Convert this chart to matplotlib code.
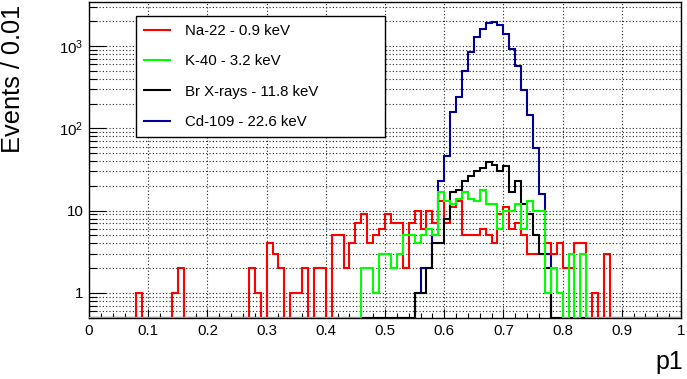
import numpy as np
import matplotlib
matplotlib.use("Agg")
import matplotlib.pyplot as plt
from matplotlib.lines import Line2D
from matplotlib.ticker import MultipleLocator, LogLocator, NullFormatter

plt.rcParams['font.family'] = ['Liberation Sans', 'DejaVu Sans']

# p1 binning, 0.01 wide bins from 0 to 1
bin_edges = np.linspace(0.0, 1.0, 101)

# counts per bin, one row = 0.1 in p1
na22 = [
    0, 0, 0, 0, 0, 0, 0, 0, 1, 0,
    0, 0, 0, 0, 1, 2, 0, 0, 0, 0,
    0, 0, 0, 0, 0, 0, 0, 2, 1, 0,
    4, 3, 2, 0, 1, 1, 2, 0, 2, 2,
    0, 5, 5, 2, 4, 7, 9, 4, 5, 6,
    9, 7, 7, 2, 7, 10, 6, 10, 7, 13,
    7, 11, 13, 5, 5, 5, 6, 5, 4, 9,
    11, 6, 7, 5, 3, 3, 3, 4, 3, 4,
    2, 2, 4, 4, 0, 1, 0, 3, 0, 0,
    0, 0, 0, 0, 0, 0, 0, 0, 0, 0,
]
k40 = [
    0, 0, 0, 0, 0, 0, 0, 0, 0, 0,
    0, 0, 0, 0, 0, 0, 0, 0, 0, 0,
    0, 0, 0, 0, 0, 0, 0, 0, 0, 0,
    0, 0, 0, 0, 0, 0, 0, 0, 0, 0,
    0, 0, 0, 0, 0, 0, 2, 2, 1, 3,
    3, 2, 3, 5, 5, 4, 5, 6, 5, 17,
    13, 12, 14, 17, 14, 13, 18, 12, 12, 6,
    10, 10, 12, 6, 13, 10, 10, 1, 2, 1,
    0, 3, 0, 3, 0, 0, 0, 0, 0, 0,
    0, 0, 0, 0, 0, 0, 0, 0, 0, 0,
]
br_xrays = [
    0, 0, 0, 0, 0, 0, 0, 0, 0, 0,
    0, 0, 0, 0, 0, 0, 0, 0, 0, 0,
    0, 0, 0, 0, 0, 0, 0, 0, 0, 0,
    0, 0, 0, 0, 0, 0, 0, 0, 0, 0,
    0, 0, 0, 0, 0, 0, 0, 0, 0, 0,
    0, 0, 0, 0, 0, 1, 1, 2, 4, 4,
    8, 17, 18, 23, 26, 30, 33, 39, 36, 30,
    35, 17, 23, 12, 9, 5, 3, 2, 0, 0,
    0, 0, 0, 0, 0, 0, 0, 0, 0, 0,
    0, 0, 0, 0, 0, 0, 0, 0, 0, 0,
]
cd109 = [
    0, 0, 0, 0, 0, 0, 0, 0, 0, 0,
    0, 0, 0, 0, 0, 0, 0, 0, 0, 0,
    0, 0, 0, 0, 0, 0, 0, 0, 0, 0,
    0, 0, 0, 0, 0, 0, 0, 0, 0, 0,
    0, 0, 0, 0, 0, 0, 0, 0, 0, 0,
    0, 0, 0, 0, 0, 1, 2, 2, 5, 23,
    46, 158, 240, 500, 840, 1276, 1590, 1900, 1945, 1800,
    1410, 920, 575, 292, 144, 57, 16, 3, 0, 0,
    0, 0, 0, 0, 0, 0, 0, 0, 0, 0,
    0, 0, 0, 0, 0, 0, 0, 0, 0, 0,
]

labels = ["Na-22 - 0.9 keV", "K-40 - 3.2 keV", "Br X-rays - 11.8 keV", "Cd-109 - 22.6 keV"]
colors = ["#ff0000", "#00ff00", "#000000", "#000099"]

ymin, ymax = 0.497, 3420

fig = plt.figure(figsize=(6.87, 3.79), dpi=100)
ax = fig.add_axes([89 / 687, 61 / 379, 592 / 687, 316 / 379])

# draw order: Cd, Na, Br, K (K ends up on top, like the root canvas)
series = [na22, k40, br_xrays, cd109]
for idx in [3, 0, 2, 1]:
    vals = np.clip(np.array(series[idx], dtype=float), ymin, None)  # empty bins sit on the frame
    ax.stairs(vals, bin_edges, baseline=None, color=colors[idx], lw=1.5, zorder=3)

ax.set_yscale('log')
ax.set_xlim(0, 1)
ax.set_ylim(ymin, ymax)

ax.set_xticks(np.arange(0, 1.01, 0.1))
ax.set_xticklabels(['0', '0.1', '0.2', '0.3', '0.4', '0.5', '0.6', '0.7', '0.8', '0.9', '1'])
ax.xaxis.set_minor_locator(MultipleLocator(0.02))
ax.set_yticks([1, 10, 100, 1000])
ax.set_yticklabels(['1', '10', r'$\mathregular{10^{2}}$', r'$\mathregular{10^{3}}$'])
ax.yaxis.set_minor_locator(LogLocator(base=10, subs=np.arange(2, 10) * 1.0, numticks=30))
ax.yaxis.set_minor_formatter(NullFormatter())

ax.tick_params(which='both', direction='in', top=False, right=False, labelsize=10.8, width=0.8)
ax.tick_params(axis='x', which='major', length=6.8, pad=4)
ax.tick_params(axis='x', which='minor', length=3.4)
ax.tick_params(axis='y', which='major', length=12.2, pad=4)
ax.tick_params(axis='y', which='minor', length=6.1)

gkw = dict(color='#222222', linestyle=(0, (1, 2)), linewidth=0.8)
ax.grid(True, axis='x', which='major', **gkw)
ax.grid(True, axis='y', which='both', **gkw)
ax.set_axisbelow(True)
for s in ax.spines.values():
    s.set_linewidth(1.0)

handles = [Line2D([], [], color=c, lw=1.5) for c in colors]
leg = ax.legend(handles, labels, loc='upper left', bbox_to_anchor=(47 / 592, 302 / 316, 249 / 592, 0.001),
                mode='expand', frameon=True, fancybox=False, edgecolor='black', framealpha=1,
                fontsize=10.8, handlelength=1.7, handletextpad=1.0, borderpad=0.55,
                labelspacing=1.09, borderaxespad=0)
leg.get_frame().set_linewidth(1.0)
leg.set_zorder(5)

fig.text(13 / 687, 1 - 153 / 379, "Events / 0.01", rotation=90, ha='center', va='bottom', fontsize=18.3)
fig.text(683 / 687, 1 - 369 / 379, "p1", ha='right', va='baseline', fontsize=18)

fig.savefig("out.png", dpi=100)
